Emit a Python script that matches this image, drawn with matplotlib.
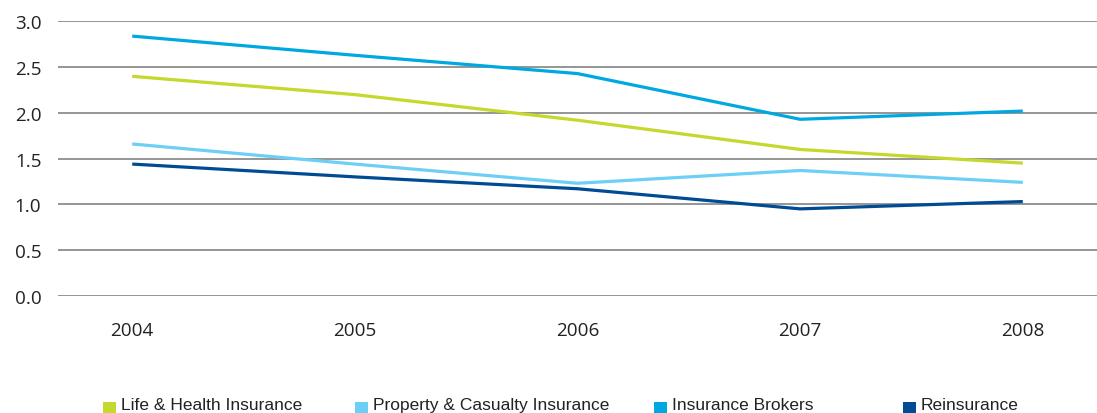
import matplotlib
matplotlib.use('Agg')
import matplotlib.pyplot as plt
from matplotlib.patches import Rectangle

years = ['2004', '2005', '2006', '2007', '2008']
series_names = ['Life & Health Insurance', 'Property & Casualty Insurance',
                'Insurance Brokers', 'Reinsurance']
life_health = [2.40, 2.20, 1.92, 1.60, 1.45]
property_casualty = [1.66, 1.44, 1.23, 1.37, 1.24]
brokers = [2.84, 2.63, 2.43, 1.93, 2.02]
reinsurance = [1.44, 1.30, 1.17, 0.95, 1.03]
colors = ['#c4d82e', '#6dcff6', '#00a8e1', '#004b93']
y_ticks = [0.0, 0.5, 1.0, 1.5, 2.0, 2.5, 3.0]

plt.rcParams['font.family'] = ['Open Sans', 'DejaVu Sans']

fig = plt.figure(figsize=(10.97, 4.14), dpi=100)
ax = fig.add_axes([58 / 1097, 0.2833, 1 - 58 / 1097, 0.9457 - 0.2833])

x = list(range(len(years)))
for vals, c in zip([life_health, property_casualty, brokers, reinsurance], colors):
    ax.plot(x, vals, color=c, lw=2.3, solid_capstyle='butt', zorder=3)

ax.set_ylim(0, 3.0)
ax.set_xlim(-1 / 3, len(years) - 1 + 1 / 3)
ax.set_yticks(y_ticks)
ax.set_yticklabels(['%.1f' % v for v in y_ticks])
ax.set_xticks(x)
ax.set_xticklabels(years)
ax.yaxis.grid(True, color='#8c8c8c', lw=1.3)
ax.set_axisbelow(True)
for s in ax.spines.values():
    s.set_visible(False)
ax.tick_params(axis='y', length=0, pad=12, labelsize=13.6, labelcolor='#222222')
ax.tick_params(axis='x', length=0, pad=18, labelsize=13.6, labelcolor='#222222')

# legend, laid out by hand like the original
leg_x = [103, 355, 654, 903]
for name, c, px in zip(series_names, colors, leg_x):
    fig.patches.append(Rectangle((px / 1097, 0.5 / 414), 13 / 1097, 11 / 414,
                                 transform=fig.transFigure, facecolor=c,
                                 edgecolor='none'))
    fig.text((px + 18) / 1097, 3.5 / 414, name, fontsize=12.5,
             family=['Liberation Sans', 'DejaVu Sans'],
             color='#222222', va='baseline', ha='left')

fig.savefig('out.png', dpi=100)
